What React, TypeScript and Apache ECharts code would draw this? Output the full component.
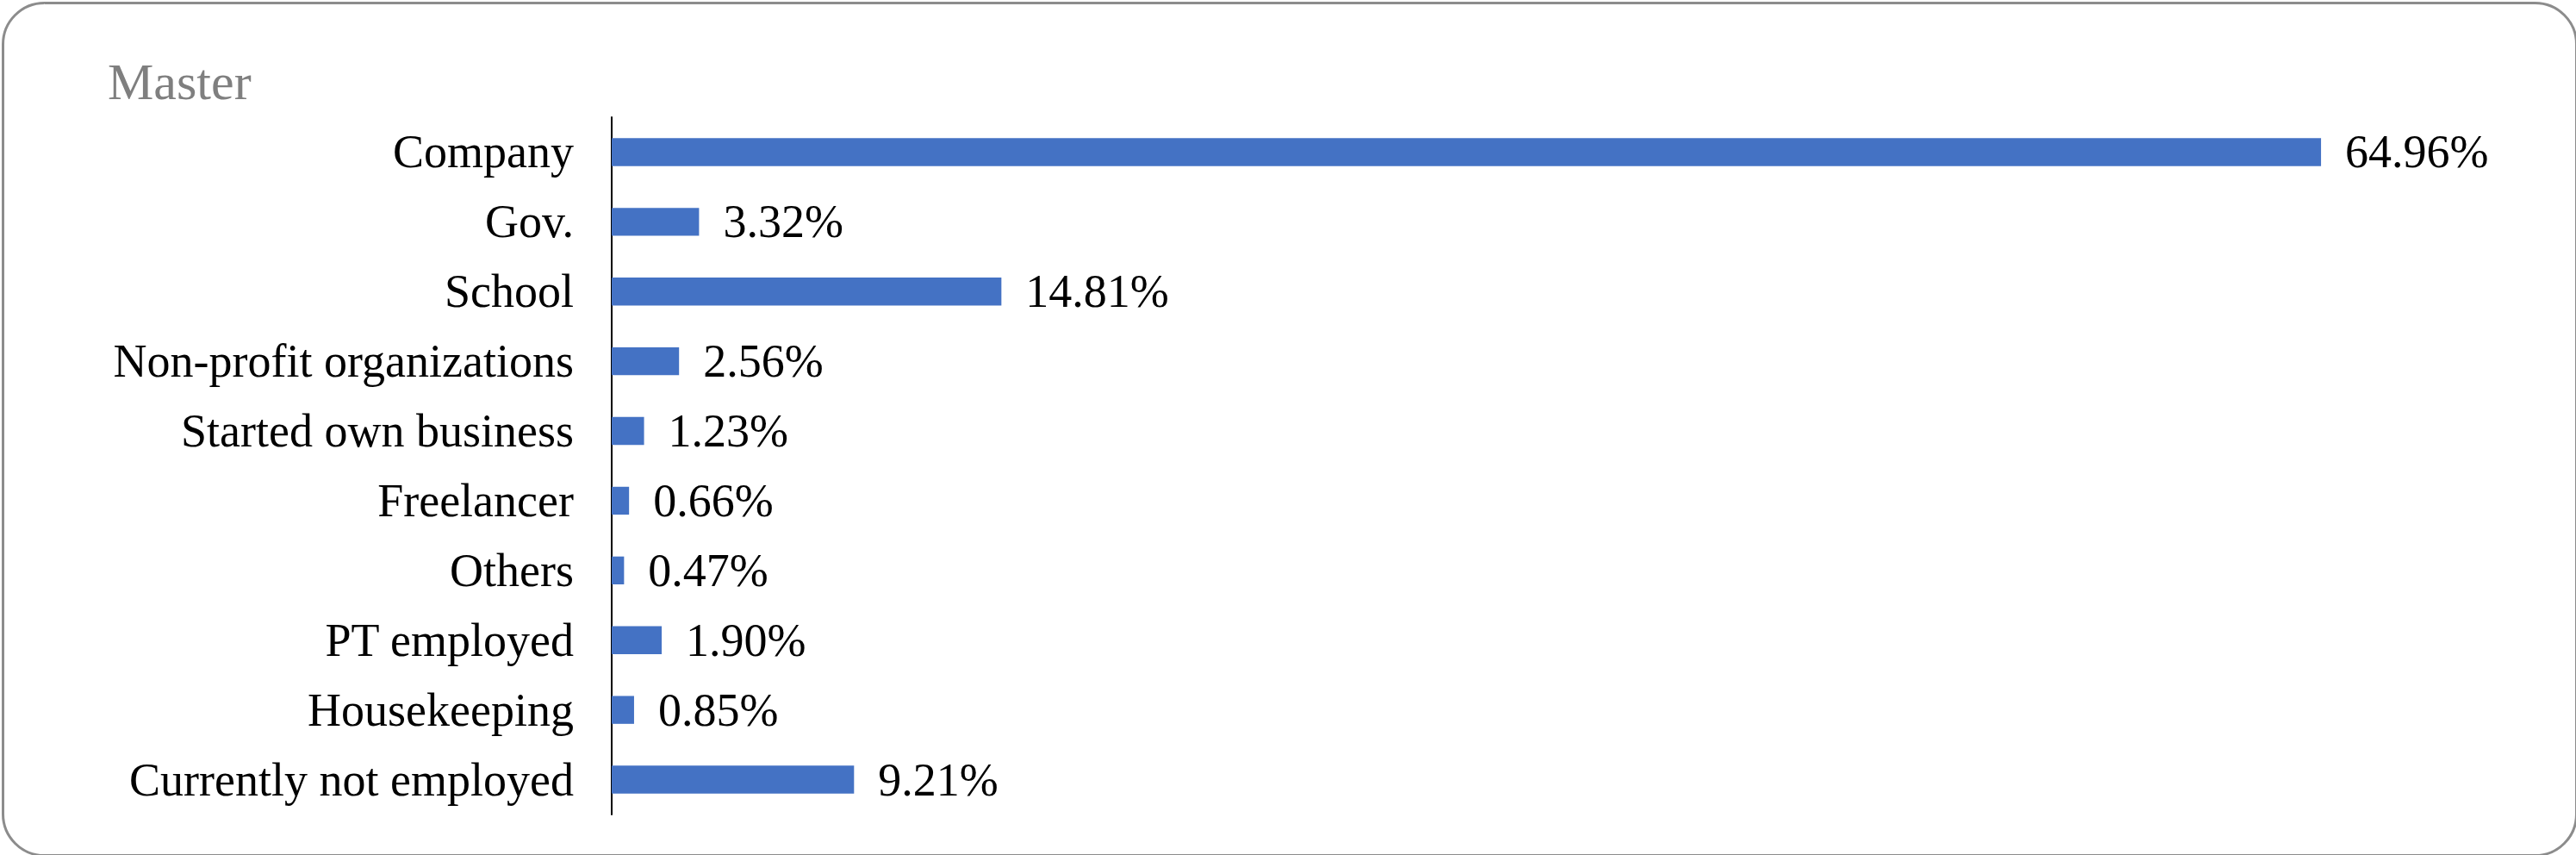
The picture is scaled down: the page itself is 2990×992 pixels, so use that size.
import React, { useEffect, useRef } from "react";
import * as echarts from "echarts";

const categories = [
  "Company",
  "Gov.",
  "School",
  "Non-profit organizations",
  "Started own business",
  "Freelancer",
  "Others",
  "PT employed",
  "Housekeeping",
  "Currently not employed",
];
const values = [64.96, 3.32, 14.81, 2.56, 1.23, 0.66, 0.47, 1.9, 0.85, 9.21];
const chartTitle = "Master";

const FONT = "'Liberation Serif', 'Times New Roman', serif";

export default function App() {
  const ref = useRef<HTMLDivElement>(null);
  useEffect(() => {
    document.body.style.margin = "0";
    const chart = echarts.init(ref.current!, null, { renderer: "svg" });
    chart.setOption({
      animation: false,
      backgroundColor: "#ffffff",
      title: {
        text: chartTitle,
        left: 120,
        top: 60,
        textStyle: {
          fontFamily: FONT,
          fontSize: 60,
          fontWeight: "normal",
          color: "#7f7f7f",
        },
      },
      graphic: [
        {
          type: "rect",
          left: 1,
          top: 1,
          shape: { x: 0, y: 0, width: 2987, height: 989, r: 48 },
          style: { fill: "none", stroke: "#8c8c8c", lineWidth: 3 },
          silent: true,
          z: -10,
        },
      ],
      grid: { left: 710, top: 136, bottom: 47, width: 2138, containLabel: false },
      xAxis: {
        type: "value",
        min: 0,
        max: 70,
        show: false,
        splitLine: { show: false },
      },
      yAxis: {
        type: "category",
        data: categories,
        inverse: true,
        axisLine: { show: true, lineStyle: { color: "#000000", width: 2 } },
        axisTick: { show: false },
        axisLabel: {
          margin: 44,
          fontFamily: FONT,
          fontSize: 54,
          color: "#000000",
        },
      },
      series: [
        {
          type: "bar",
          data: values,
          barCategoryGap: "60%",
          itemStyle: { color: "#4472c4" },
          label: {
            show: true,
            position: "right",
            distance: 28,
            fontFamily: FONT,
            fontSize: 54,
            color: "#000000",
            formatter: (p: any) => Number(p.value).toFixed(2) + "%",
          },
        },
      ],
    });
    return () => chart.dispose();
  }, []);
  return <div ref={ref} style={{ width: 2990, height: 992 }} />;
}
